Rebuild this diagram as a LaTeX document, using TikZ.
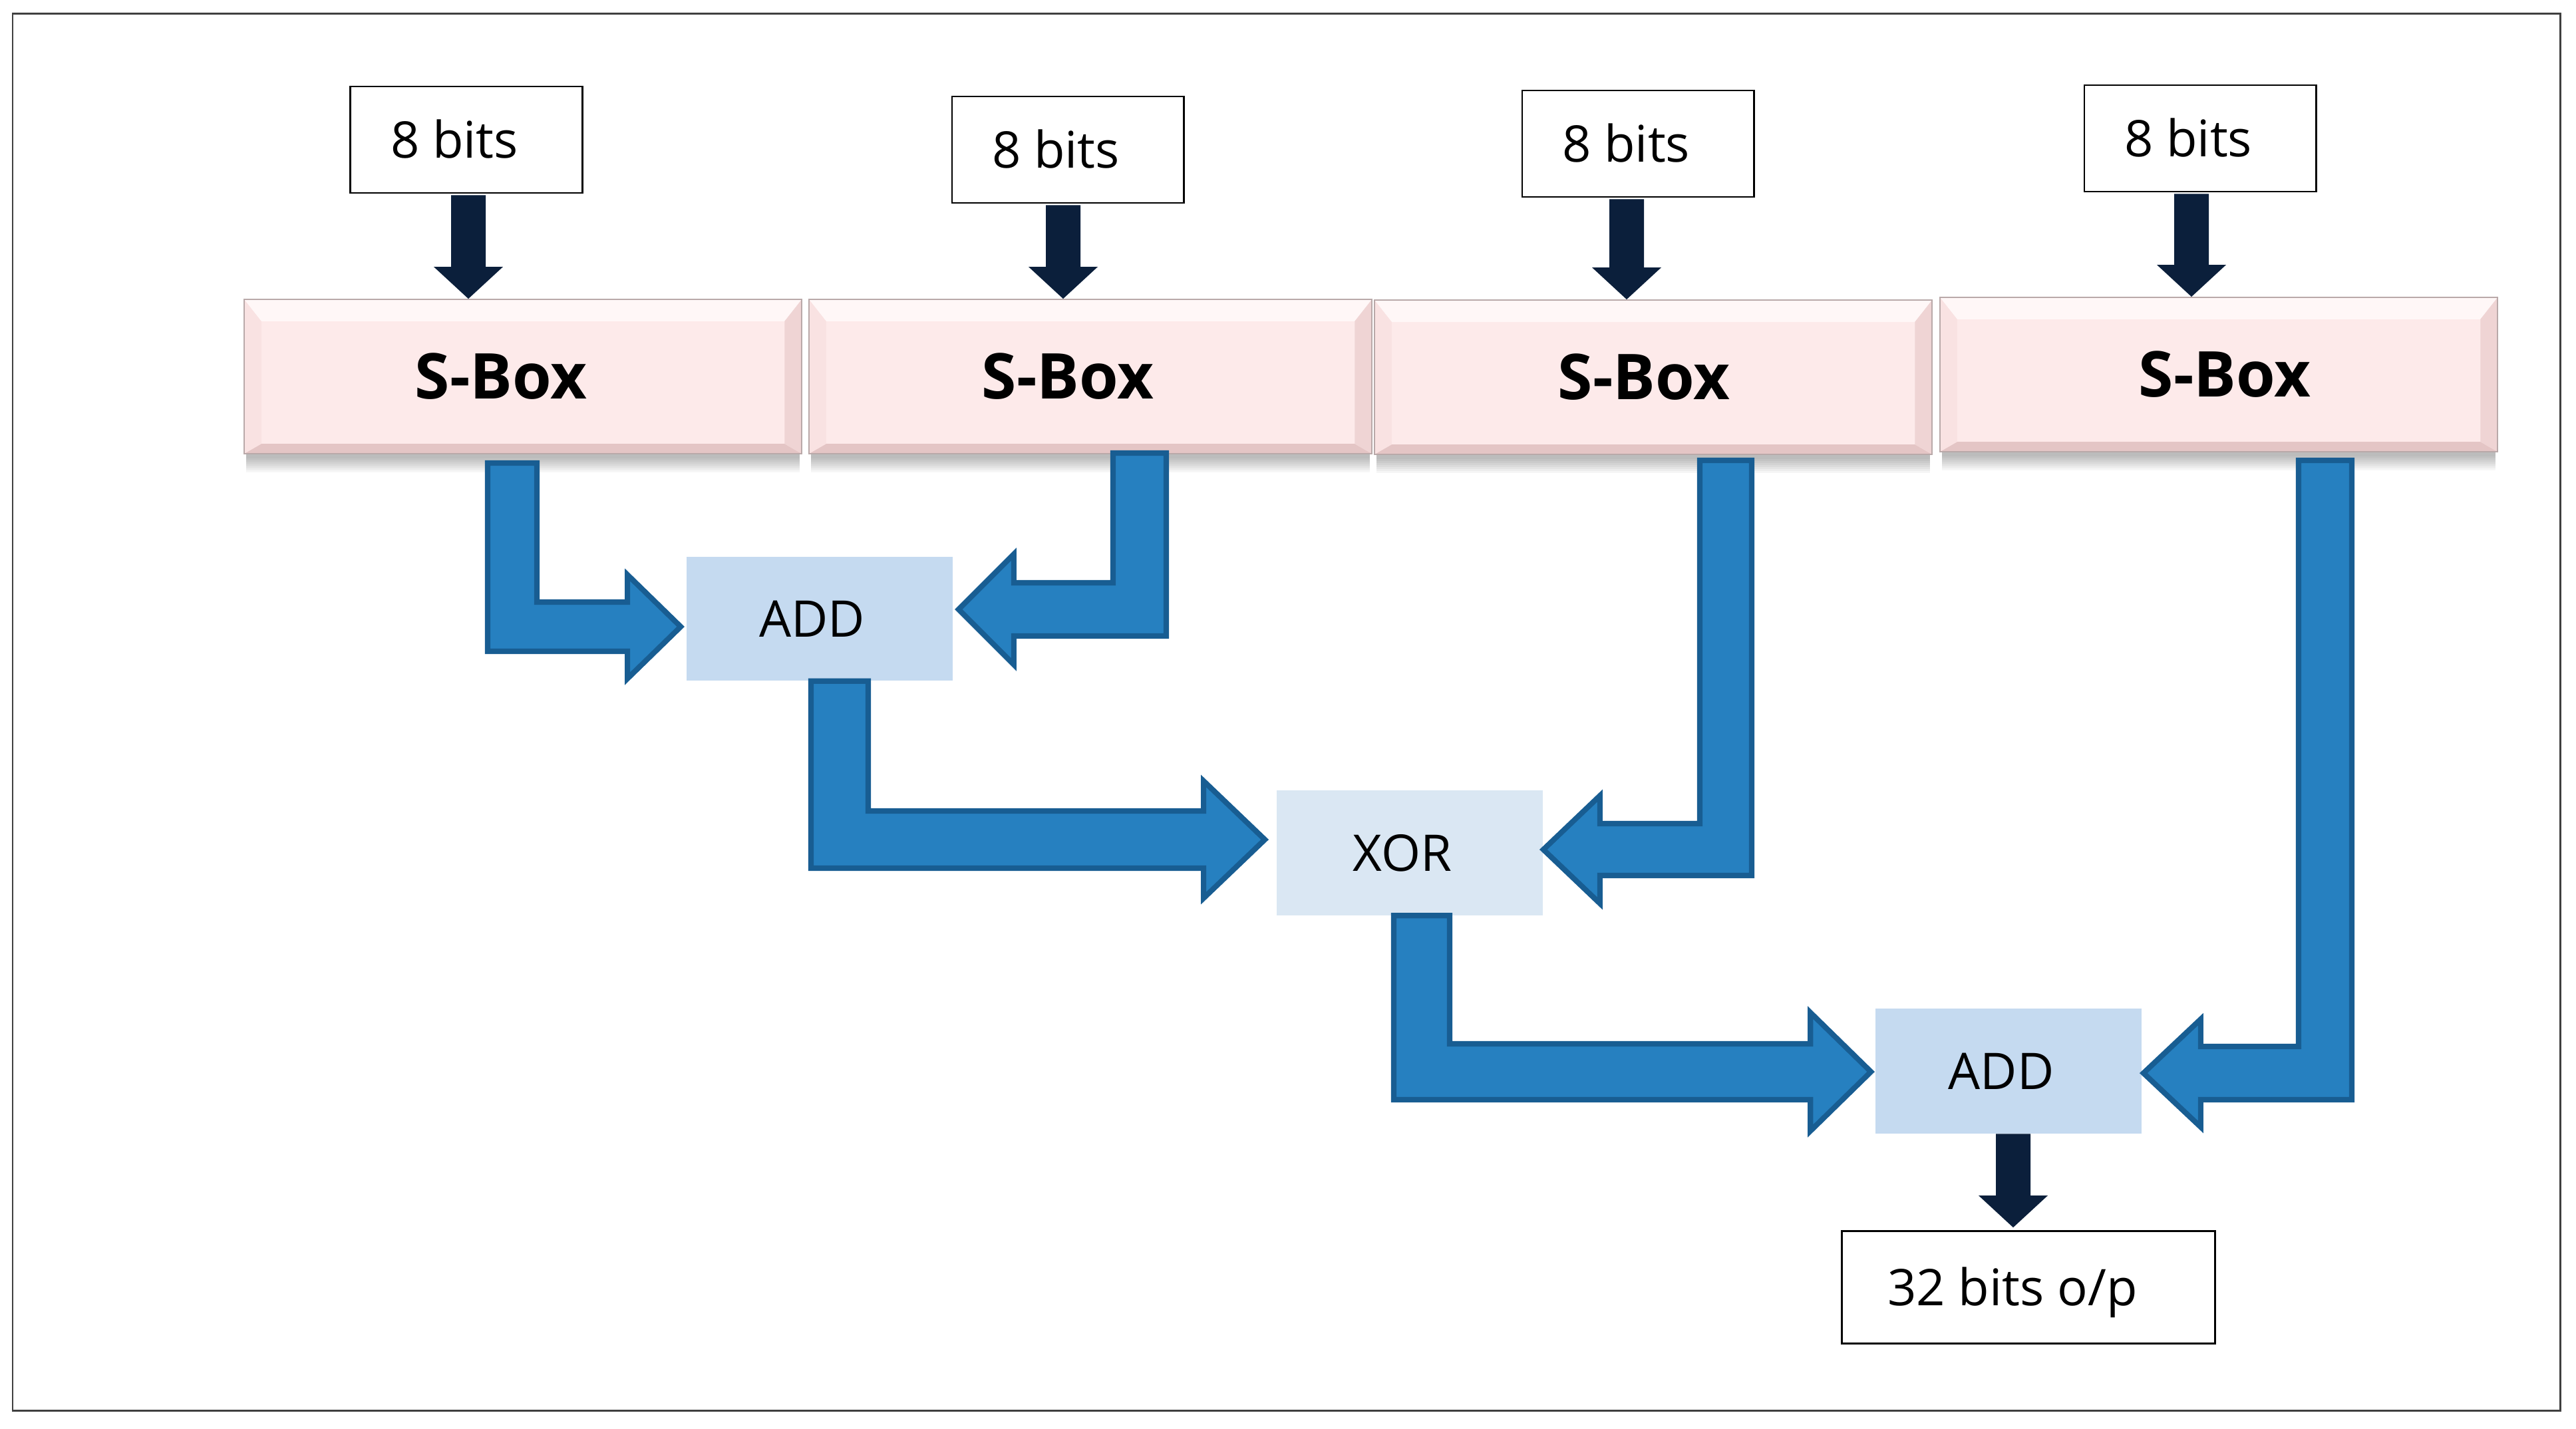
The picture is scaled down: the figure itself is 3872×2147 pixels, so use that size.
\documentclass[tikz,border=0pt]{standalone}
\usepackage{fontspec}
\setmainfont{Open Sans}
\usetikzlibrary{calc}
\pgfdeclarelayer{bg}
\pgfsetlayers{bg,main}
\definecolor{sbface}{HTML}{FDEAEA}
\definecolor{sbtop}{HTML}{FFF7F7}
\definecolor{sbleft}{HTML}{F9E2E2}
\definecolor{sbright}{HTML}{EFD4D4}
\definecolor{sbbot}{HTML}{E4C5C5}
\definecolor{sbedge}{HTML}{B9A9A9}
\definecolor{addfill}{HTML}{C5DAF0}
\definecolor{xorfill}{HTML}{DAE7F3}
\definecolor{blkfill}{HTML}{2680C0}
\definecolor{blkedge}{HTML}{185D92}
\definecolor{navy}{HTML}{0B1F3B}
\definecolor{framecol}{HTML}{404040}

% #1 start (top centre of shaft), #2 tip, #3 direction (1 right, -1 left), #4 half shaft, #5 half head, #6 head length
\newcommand{\blockarrow}[6]{%
  \filldraw[blk] ($(#1)+({(#3)*#4},0)$) -- ($(#1|-#2)+({(#3)*#4},-#4)$)
    -- ($(#2)+({-(#3)*#6},-#4)$) -- ($(#2)+({-(#3)*#6},-#5)$) -- (#2)
    -- ($(#2)+({-(#3)*#6},#5)$) -- ($(#2)+({-(#3)*#6},#4)$)
    -- ($(#1|-#2)+({-(#3)*#4},#4)$) -- ($(#1)+({-(#3)*#4},0)$) -- cycle;}
% #1 start, #2 tip (straight below)
\newcommand{\darkarrow}[2]{%
  \fill[navy] ($(#1)+(-26,0)$) -- ($(#1)+(26,0)$) -- ($(#2)+(26,-48)$) -- ($(#2)+(52,-48)$)
    -- (#2) -- ($(#2)+(-52,-48)$) -- ($(#2)+(-26,-48)$) -- cycle;}

\begin{document}
\begin{tikzpicture}[x=0.01cm,y=-0.01cm,
  txt/.style={font=\fontsize{21.6pt}{26pt}\selectfont, text height=15.4pt, text depth=0pt, inner sep=0pt},
  bitsbox/.style={txt, rectangle, draw=black, line width=0.8pt, fill=white, minimum width=3.48cm, minimum height=1.6cm},
  opbox/.style={txt, rectangle, minimum width=4cm, minimum height=1.86cm},
  sbox/.style={rectangle, inner sep=0pt, minimum width=8.38cm, minimum height=2.32cm,
    font=\fontsize{27pt}{32pt}\selectfont\bfseries, text height=19.3pt, text depth=0pt,
    fill=sbface, draw=sbedge, line width=0.5pt,
    path picture={
      \fill[sbtop] (path picture bounding box.north west) -- (path picture bounding box.north east)
        -- ($(path picture bounding box.north east)+(-26,33)$) -- ($(path picture bounding box.north west)+(26,33)$) -- cycle;
      \fill[sbbot] (path picture bounding box.south west) -- (path picture bounding box.south east)
        -- ($(path picture bounding box.south east)+(-26,-15)$) -- ($(path picture bounding box.south west)+(26,-15)$) -- cycle;
      \fill[sbleft] (path picture bounding box.north west) -- ($(path picture bounding box.north west)+(26,33)$)
        -- ($(path picture bounding box.south west)+(26,-15)$) -- (path picture bounding box.south west) -- cycle;
      \fill[sbright] (path picture bounding box.north east) -- ($(path picture bounding box.north east)+(-26,33)$)
        -- ($(path picture bounding box.south east)+(-26,-15)$) -- (path picture bounding box.south east) -- cycle;
    }},
  blk/.style={fill=blkfill, draw=blkedge, line width=2.3pt, miter limit=10},
]
\useasboundingbox (0,0) rectangle (3872,2147);
\begin{pgfonlayer}{bg}
  \fill[white] (0,0) rectangle (3872,2147);
\end{pgfonlayer}
\draw[framecol, line width=0.85pt] (19,20) rectangle (3848,2120);

% input boxes
\node[bitsbox] (b1) at (701,210) {\hspace*{-10.2pt}8 bits};
\node[bitsbox] (b2) at (1605,225) {\hspace*{-10.2pt}8 bits};
\node[bitsbox] (b3) at (2462,216) {\hspace*{-10.2pt}8 bits};
\node[bitsbox] (b4) at (3307,208) {\hspace*{-10.2pt}8 bits};

% S-boxes
\node[sbox] (sb1) at (786,566) {\hspace*{-18.8pt}S-Box};
\node[sbox, minimum width=8.46cm] (sb2) at (1639,566) {\hspace*{-19.3pt}S-Box};
\node[sbox] (sb3) at (2485,567) {\hspace*{-8pt}S-Box};
\node[sbox] (sb4) at (3335,563) {\hspace*{5.1pt}S-Box};

\begin{pgfonlayer}{bg}
  \foreach \s in {sb1,sb2,sb3,sb4}{
    \foreach \k in {0,...,7}{
      \fill[black, opacity=0.035] ($(\s.south west)+(4,-10)$) rectangle ($(\s.south east)+(-4,{6+\k*3})$);
    }
  }
\end{pgfonlayer}

% operation boxes
\node[opbox, fill=addfill] (add1) at (1232,930) {\hspace*{-6.3pt}ADD};
\node[opbox, fill=xorfill, minimum height=1.87cm] (xor) at (2119,1282) {\hspace*{-6.3pt}XOR};
\node[opbox, fill=addfill, minimum height=1.87cm] (add2) at (3019,1610) {\hspace*{-6.3pt}ADD};
\node[bitsbox, minimum width=5.6cm, minimum height=1.69cm] (out) at (3049,1935) {\hspace*{-13.7pt}32 bits o/p};

% dark input/output arrows
\coordinate (d1s) at ($(b1.south)+(3,2)$);   \coordinate (d1t) at (d1s |- sb1.north);
\coordinate (d2s) at ($(b2.south)+(-7,2)$);  \coordinate (d2t) at (d2s |- sb2.north);
\coordinate (d3s) at ($(b3.south)+(-17,2)$); \coordinate (d3t) at (d3s |- sb3.north);
\coordinate (d4s) at ($(b4.south)+(-13,2)$); \coordinate (d4t) at (d4s |- sb4.north);
\coordinate (d5s) at ($(add2.south)+(7,0)$); \coordinate (d5t) at ($(d5s |- out.north)+(0,-4)$);
\darkarrow{d1s}{d1t}
\darkarrow{d2s}{d2t}
\darkarrow{d3s}{d3t}
\darkarrow{d4s}{d4t}
\darkarrow{d5s}{d5t}

% blue block arrows
\coordinate (a1s) at ($(sb1.south)+(-16,13)$);  \coordinate (a1t) at ($(add1.west)+(-8,12)$);
\coordinate (a2s) at ($(sb2.south)+(74,-2)$);   \coordinate (a2t) at ($(add1.east)+(8,-14)$);
\coordinate (a3s) at ($(add1.south)+(30,0)$);   \coordinate (a3t) at ($(xor.west)+(-17,-20)$);
\coordinate (a4s) at ($(sb3.south)+(109,8)$);   \coordinate (a4t) at ($(xor.east)+(0,-5)$);
\coordinate (a5s) at ($(xor.south)+(18,0)$);    \coordinate (a5t) at ($(add2.west)+(-6,1)$);
\coordinate (a6s) at ($(sb4.south)+(160,12)$);  \coordinate (a6t) at ($(add2.east)+(2,3)$);
\blockarrow{a1s}{a1t}{1}{37}{78}{80}
\blockarrow{a2s}{a2t}{-1}{40}{83}{83}
\blockarrow{a3s}{a3t}{1}{43}{88}{92}
\blockarrow{a4s}{a4t}{-1}{39}{81}{85}
\blockarrow{a5s}{a5t}{1}{42}{89}{91}
\blockarrow{a6s}{a6t}{-1}{40}{81}{86}
\end{tikzpicture}
\end{document}
